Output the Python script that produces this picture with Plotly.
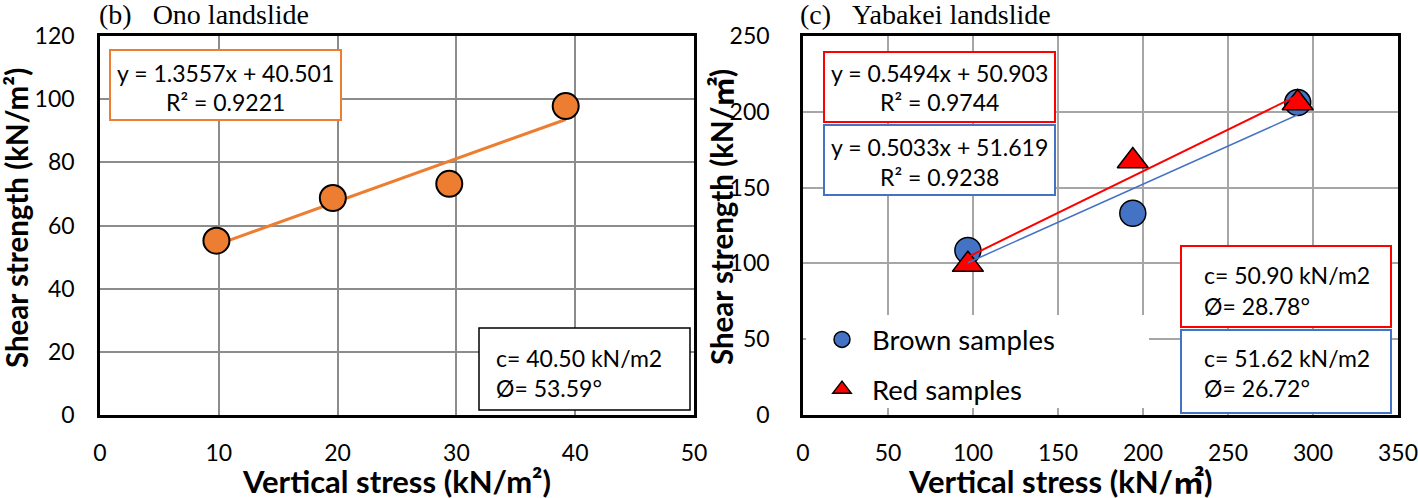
import numpy as np
import plotly.graph_objects as go

# ---------------- data ----------------
ono_stress = [9.8, 19.6, 29.4, 39.2]
ono_shear = [55.2, 68.7, 73.2, 97.8]

yabakei_stress = [97, 194, 291]
brown_shear = [108.5, 133.1, 206.1]
red_shear = [99.2, 167.5, 205.8]

left_xticks = [0, 10, 20, 30, 40, 50]
left_yticks = [0, 20, 40, 60, 80, 100, 120]
right_xticks = [0, 50, 100, 150, 200, 250, 300, 350]
right_yticks = [0, 50, 100, 150, 200, 250]

series_names = ["Brown samples", "Red samples"]
ono_eq = ["y = 1.3557x + 40.501", "R² = 0.9221"]
red_eq = ["y = 0.5494x + 50.903", "R² = 0.9744"]
brown_eq = ["y = 0.5033x + 51.619", "R² = 0.9238"]
ono_params = ["c= 40.50 kN/m2", "Ø= 53.59°"]
red_params = ["c= 50.90 kN/m2", "Ø= 28.78°"]
brown_params = ["c= 51.62 kN/m2", "Ø= 26.72°"]

# ---------------- layout helpers ----------------
W, H = 1418, 498
def px(x):
    return x / W
def py(y):
    return 1 - y / H

ORANGE = "#ED7D31"
BLUE = "#4472C4"
RED = "#FF0000"
FONT = "Lato, Noto Sans CJK JP"
SERIF = "Liberation Serif, Times New Roman, serif"

def fit_line(xs, ys):
    k, b = np.polyfit(xs, ys, 1)
    xx = np.array([min(xs), max(xs)])
    return xx, k * xx + b

fig = go.Figure()

# left: trend line under markers
lx, ly = fit_line(ono_stress, ono_shear)
fig.add_trace(go.Scatter(x=lx, y=ly, mode="lines", line=dict(color=ORANGE, width=3),
                         showlegend=False, xaxis="x", yaxis="y", hoverinfo="skip"))
fig.add_trace(go.Scatter(x=ono_stress, y=ono_shear, mode="markers",
                         marker=dict(size=26, color=ORANGE, line=dict(color="black", width=2)),
                         showlegend=False, xaxis="x", yaxis="y"))

# right: markers then lines
fig.add_trace(go.Scatter(x=yabakei_stress, y=brown_shear, mode="markers", name=series_names[0],
                         marker=dict(size=26, color=BLUE, symbol="circle", line=dict(color="black", width=1.5)),
                         xaxis="x2", yaxis="y2", legendgroup="a"))
fig.add_trace(go.Scatter(x=yabakei_stress, y=red_shear, mode="markers", name=series_names[1],
                         marker=dict(size=27, color=RED, symbol="triangle-up", line=dict(color="black", width=1.5)),
                         xaxis="x2", yaxis="y2", legendgroup="b"))
bx, by = fit_line(yabakei_stress, brown_shear)
fig.add_trace(go.Scatter(x=bx, y=by, mode="lines", line=dict(color=BLUE, width=1.5),
                         showlegend=False, xaxis="x2", yaxis="y2", hoverinfo="skip"))
rx, ry = fit_line(yabakei_stress, red_shear)
fig.add_trace(go.Scatter(x=rx, y=ry, mode="lines", line=dict(color=RED, width=2),
                         showlegend=False, xaxis="x2", yaxis="y2", hoverinfo="skip"))

Y_TOP, Y_BOT = 36, 415
axis_common = dict(showgrid=True, zeroline=False, showline=True, mirror=True, automargin=False,
                   linecolor="black", ticks="", ticklabeloverflow="allow",
                   tickfont=dict(family=FONT, size=23, color="black"))

fig.update_layout(
    width=W, height=H,
    margin=dict(l=0, r=0, t=0, b=0, autoexpand=False),
    paper_bgcolor="white", plot_bgcolor="white",
    xaxis=dict(domain=[px(100), px(694)], range=[0, 50], tickvals=left_xticks,
               gridcolor="#8c8c8c", gridwidth=2, linewidth=2.5, ticklabelstandoff=16, **axis_common),
    yaxis=dict(domain=[py(Y_BOT), py(Y_TOP)], range=[0, 120], tickvals=left_yticks,
               gridcolor="#8c8c8c", gridwidth=2, linewidth=2.5, ticklabelstandoff=18, **axis_common),
    xaxis2=dict(domain=[px(803), px(1398)], range=[0, 350], tickvals=right_xticks, anchor="y2",
                gridcolor="#a6a6a6", gridwidth=1.5, linewidth=2.5, ticklabelstandoff=16, **axis_common),
    yaxis2=dict(domain=[py(Y_BOT), py(Y_TOP)], range=[0, 250], tickvals=right_yticks, anchor="x2",
                gridcolor="#a6a6a6", gridwidth=1.5, linewidth=2.5, ticklabelstandoff=26, **axis_common),
    showlegend=True,
    legend=dict(x=px(812), y=py(315), xanchor="left", yanchor="top", bgcolor="rgba(0,0,0,0)",
                font=dict(family=FONT, size=27.5, color="black"), itemwidth=50, tracegroupgap=11),
)

shapes = []
annotations = []

def box(x0, y0, x1, y1, color, width=2):
    shapes.append(dict(type="rect", xref="paper", yref="paper", x0=px(x0), x1=px(x1), y0=py(y1), y1=py(y0),
                       fillcolor="white", line=dict(color=color, width=width), layer="above"))

def text(x, y, s, size=23, xanchor="center", family=FONT, bold=False, angle=0):
    annotations.append(dict(xref="paper", yref="paper", x=px(x), y=py(y), text=("<b>%s</b>" % s) if bold else s,
                            showarrow=False, xanchor=xanchor, yanchor="middle", textangle=angle,
                            font=dict(family=family, size=size, color="black")))

# legend background (hides gridlines)
shapes.append(dict(type="rect", xref="paper", yref="paper", x0=px(806), x1=px(1149), y0=py(408), y1=py(315),
                   fillcolor="white", line=dict(width=0), layer="above"))

# equation boxes
box(110, 50, 341, 120, ORANGE)
text(225.5, 73, ono_eq[0]); text(225.5, 102, ono_eq[1])
box(824, 52, 1055, 122, RED)
text(939.5, 73, red_eq[0]); text(939.5, 102, red_eq[1])
box(824, 125, 1055, 195, BLUE)
text(939.5, 147, brown_eq[0]); text(939.5, 177, brown_eq[1])

# parameter boxes
box(479, 328, 690, 410, "black", 1.5)
text(494, 358, ono_params[0], xanchor="left"); text(494, 388, ono_params[1], xanchor="left")
box(1181, 246, 1391, 327, RED)
text(1202, 275, red_params[0], xanchor="left"); text(1202, 306, red_params[1], xanchor="left")
box(1181, 330, 1391, 413, BLUE)
text(1202, 358, brown_params[0], xanchor="left"); text(1202, 388, brown_params[1], xanchor="left")

# titles
text(97, 14, "(b)&nbsp;&nbsp;&nbsp;Ono landslide", size=28, xanchor="left", family=SERIF)
text(798, 14, "(c)&nbsp;&nbsp;&nbsp;Yabakei landslide", size=28, xanchor="left", family=SERIF)

# axis titles
text(16, 218, "Shear strength (kN/m²)", size=29.5, bold=True, angle=-90)
text(721, 217, "Shear strength (kN/㎡)", size=29.5, bold=True, angle=-90)
text(396, 481, "Vertical stress (kN/m²)", size=31, bold=True)
text(1060, 481, "Vertical stress (kN/㎡)", size=31, bold=True)

fig.update_layout(shapes=shapes, annotations=annotations)
fig.write_html("out.html", config={"displayModeBar": False},
               post_script="document.body.style.margin='0';document.body.style.overflow='hidden';")
